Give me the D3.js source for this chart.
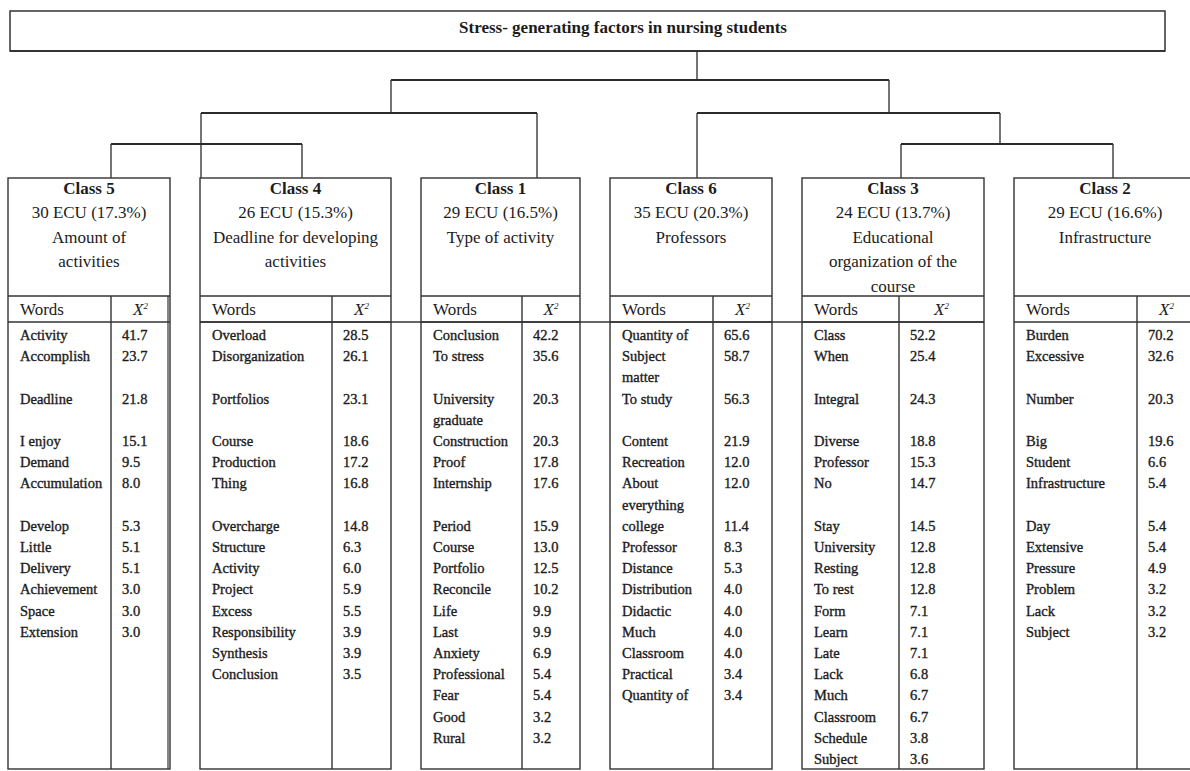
<!DOCTYPE html>
<html>
<head>
<meta charset="utf-8">
<script src="https://cdn.jsdelivr.net/npm/d3@7"></script>
<style>
  body { margin: 0; background: #fff; }
  text { font-family: "Liberation Serif", "DejaVu Serif", serif; fill: #1c1c1c; }
</style>
</head>
<body>
<script>
var title = "Stress- generating factors in nursing students";

var classNames = ["Class 5", "Class 4", "Class 1", "Class 6", "Class 3", "Class 2"];
var classEcu = ["30 ECU (17.3%)", "26 ECU (15.3%)", "29 ECU (16.5%)", "35 ECU (20.3%)", "24 ECU (13.7%)", "29 ECU (16.6%)"];
var classThemes = [
  ["Amount of", "activities"],
  ["Deadline for developing", "activities"],
  ["Type of activity"],
  ["Professors"],
  ["Educational", "organization of the", "course"],
  ["Infrastructure"]
];

var wordsC5 = ["Activity", "Accomplish", "Deadline", "I enjoy", "Demand", "Accumulation", "Develop", "Little", "Delivery", "Achievement", "Space", "Extension"];
var chiC5 = [41.7, 23.7, 21.8, 15.1, 9.5, 8.0, 5.3, 5.1, 5.1, 3.0, 3.0, 3.0];

var wordsC4 = ["Overload", "Disorganization", "Portfolios", "Course", "Production", "Thing", "Overcharge", "Structure", "Activity", "Project", "Excess", "Responsibility", "Synthesis", "Conclusion"];
var chiC4 = [28.5, 26.1, 23.1, 18.6, 17.2, 16.8, 14.8, 6.3, 6.0, 5.9, 5.5, 3.9, 3.9, 3.5];

var wordsC1 = ["Conclusion", "To stress", "University\ngraduate", "Construction", "Proof", "Internship", "Period", "Course", "Portfolio", "Reconcile", "Life", "Last", "Anxiety", "Professional", "Fear", "Good", "Rural"];
var chiC1 = [42.2, 35.6, 20.3, 20.3, 17.8, 17.6, 15.9, 13.0, 12.5, 10.2, 9.9, 9.9, 6.9, 5.4, 5.4, 3.2, 3.2];

var wordsC6 = ["Quantity of", "Subject\nmatter", "To study", "Content", "Recreation", "About\neverything", "college", "Professor", "Distance", "Distribution", "Didactic", "Much", "Classroom", "Practical", "Quantity of"];
var chiC6 = [65.6, 58.7, 56.3, 21.9, 12.0, 12.0, 11.4, 8.3, 5.3, 4.0, 4.0, 4.0, 4.0, 3.4, 3.4];

var wordsC3 = ["Class", "When", "Integral", "Diverse", "Professor", "No", "Stay", "University", "Resting", "To rest", "Form", "Learn", "Late", "Lack", "Much", "Classroom", "Schedule", "Subject"];
var chiC3 = [52.2, 25.4, 24.3, 18.8, 15.3, 14.7, 14.5, 12.8, 12.8, 12.8, 7.1, 7.1, 7.1, 6.8, 6.7, 6.7, 3.8, 3.6];

var wordsC2 = ["Burden", "Excessive", "Number", "Big", "Student", "Infrastructure", "Day", "Extensive", "Pressure", "Problem", "Lack", "Subject"];
var chiC2 = [70.2, 32.6, 20.3, 19.6, 6.6, 5.4, 5.4, 5.4, 4.9, 3.2, 3.2, 3.2];

var classWords = [wordsC5, wordsC4, wordsC1, wordsC6, wordsC3, wordsC2];
var classChi = [chiC5, chiC4, chiC1, chiC6, chiC3, chiC2];

// cluster tree (descending classification)
var treeData = {
  name: "root",
  children: [
    { name: "A", children: [
      { name: "C", children: [{ name: "Class 5" }, { name: "Class 4" }] },
      { name: "Class 1" }
    ] },
    { name: "B", children: [
      { name: "Class 6" },
      { name: "D", children: [{ name: "Class 3" }, { name: "Class 2" }] }
    ] }
  ]
};

// layout
var width = 1190, height = 771;
var boxW = [162, 191, 159, 162, 182, 182],
  wordColW = [103, 132, 101, 103, 97, 123],
  leafOff = [103, 102, 116, 87, 99, 99],
  gap = 30, startX = 8;
var yTop = 178, yHead = 296, yWords = 322, yBottom = 769;
var barY = [80, 113, 144];
var innerX = { root: 697, A: 391, B: 889, C: 201, D: 1000 };

var lefts = [];
boxW.reduce(function(acc, w) { lefts.push(acc); return acc + w + gap; }, startX);

var svg = d3
  .select("body")
  .append("svg")
  .attr("width", width)
  .attr("height", height);

var fmt = d3.format(".1f");

// title box
svg.append("rect")
  .attr("x", 10).attr("y", 11)
  .attr("width", 1155).attr("height", 40)
  .attr("fill", "none").attr("stroke", "#333").attr("stroke-width", 1.5);
svg.append("line").attr("x1", 10).attr("x2", 1165).attr("y1", 51).attr("y2", 51)
  .attr("stroke", "#333").attr("stroke-width", 2);
svg.append("text")
  .attr("x", 623).attr("y", 27).attr("dy", "0.35em")
  .attr("text-anchor", "middle")
  .style("font-weight", "bold").style("font-size", "17px")
  .text(title);

// dendrogram
var root = d3.hierarchy(treeData);
root.each(function(n) {
  var ci = classNames.indexOf(n.data.name);
  n.x = ci >= 0 ? lefts[ci] + leafOff[ci] : innerX[n.data.name];
});

var segs = [];
segs.push({ x1: root.x, y1: 51, x2: root.x, y2: barY[0], h: false });
root.each(function(n) {
  if (n.children) {
    var xs = n.children.map(function(c) { return c.x; });
    segs.push({ x1: d3.min(xs), y1: barY[n.depth], x2: d3.max(xs), y2: barY[n.depth], h: true });
  }
  if (n.parent) {
    var yEnd = n.children ? barY[n.depth] : yTop;
    if (n.data.name === "C") yEnd = yTop;
    segs.push({ x1: n.x, y1: barY[n.parent.depth], x2: n.x, y2: yEnd, h: false });
  }
});

svg.append("g")
  .selectAll("line")
  .data(segs)
  .enter()
  .append("line")
  .attr("x1", function(d) { return d.x1; })
  .attr("y1", function(d) { return d.y1; })
  .attr("x2", function(d) { return d.x2; })
  .attr("y2", function(d) { return d.y2; })
  .attr("stroke", "#2a2a2a")
  .attr("stroke-width", function(d) { return d.h ? 2 : 1.3; });

// row heights come from the tallest word in each row
var nRows = d3.max(classWords, function(w) { return w.length; });
var rowStart = [], acc = 0;
for (var r = 0; r < nRows; r++) {
  rowStart.push(acc);
  acc += d3.max(classWords, function(w) { return w[r] ? w[r].split("\n").length : 1; });
}
var lineY = d3.scaleLinear().domain([0, 20]).range([335, 759]);

// long line under the header row
svg.append("line")
  .attr("x1", lefts[1]).attr("x2", lefts[4] + boxW[4])
  .attr("y1", yWords).attr("y2", yWords)
  .attr("stroke", "#333").attr("stroke-width", 1.4);

var cls = svg.selectAll(".cls")
  .data(classNames)
  .enter()
  .append("g")
  .attr("class", "cls")
  .attr("transform", function(d, i) { return "translate(" + lefts[i] + ",0)"; });

cls.append("rect")
  .attr("x", 0).attr("y", yTop)
  .attr("width", function(d, i) { return boxW[i]; })
  .attr("height", yBottom - yTop)
  .attr("fill", "none")
  .attr("stroke", "#333")
  .attr("stroke-width", 1.4);

cls.append("line")
  .attr("x1", 0).attr("x2", function(d, i) { return boxW[i]; })
  .attr("y1", yHead).attr("y2", yHead)
  .attr("stroke", "#333").attr("stroke-width", 1.4);
cls.append("line")
  .attr("x1", 0).attr("x2", function(d, i) { return boxW[i]; })
  .attr("y1", yWords).attr("y2", yWords)
  .attr("stroke", "#333").attr("stroke-width", 1.4);
cls.append("line")
  .attr("x1", function(d, i) { return wordColW[i]; })
  .attr("x2", function(d, i) { return wordColW[i]; })
  .attr("y1", yHead).attr("y2", yBottom)
  .attr("stroke", "#333").attr("stroke-width", 1.4);

// double right edge on the first table
svg.append("line")
  .attr("x1", lefts[0] + boxW[0] - 2).attr("x2", lefts[0] + boxW[0] - 2)
  .attr("y1", yHead).attr("y2", yBottom)
  .attr("stroke", "#333").attr("stroke-width", 1.2);

// header text
cls.each(function(d, i) {
  var g = d3.select(this);
  var lines = [d, classEcu[i]].concat(classThemes[i]);
  g.selectAll(".hdr")
    .data(lines)
    .enter()
    .append("text")
    .attr("class", "hdr")
    .attr("x", boxW[i] / 2)
    .attr("y", function(t, k) { return 188 + k * 24.5; })
    .attr("dy", "0.35em")
    .attr("text-anchor", "middle")
    .style("font-size", "17px")
    .style("font-weight", function(t, k) { return k === 0 ? "bold" : "normal"; })
    .text(function(t) { return t; });

  g.append("text")
    .attr("x", 12).attr("y", 309).attr("dy", "0.35em")
    .style("font-size", "17px")
    .text("Words");
  var chiHead = g.append("text")
    .attr("x", (wordColW[i] + boxW[i]) / 2).attr("y", 309).attr("dy", "0.35em")
    .attr("text-anchor", "middle")
    .style("font-size", "17px").style("font-style", "italic");
  chiHead.append("tspan").text("X");
  chiHead.append("tspan").attr("dy", "-6").style("font-size", "9px").text("2");

  var rows = classWords[i].map(function(w, r) {
    return { lines: w.split("\n"), v: classChi[i][r], r: r };
  });

  var wt = g.selectAll(".word")
    .data(rows)
    .enter()
    .append("text")
    .attr("class", "word")
    .attr("y", function(e) { return lineY(rowStart[e.r]); })
    .style("font-size", "14.5px")
    .style("stroke", "#1c1c1c").style("stroke-width", 0.35);
  wt.selectAll("tspan")
    .data(function(e) { return e.lines; })
    .enter()
    .append("tspan")
    .attr("x", 12)
    .attr("dy", function(t, k) { return k === 0 ? "0.35em" : (lineY(1) - lineY(0)) + "px"; })
    .text(function(t) { return t; });

  g.selectAll(".chi")
    .data(rows)
    .enter()
    .append("text")
    .attr("class", "chi")
    .attr("x", wordColW[i] + 11)
    .attr("y", function(e) { return lineY(rowStart[e.r]); })
    .attr("dy", "0.35em")
    .style("font-size", "14.5px")
    .style("stroke", "#1c1c1c").style("stroke-width", 0.35)
    .text(function(e) { return fmt(e.v); });
});
</script>
</body>
</html>
